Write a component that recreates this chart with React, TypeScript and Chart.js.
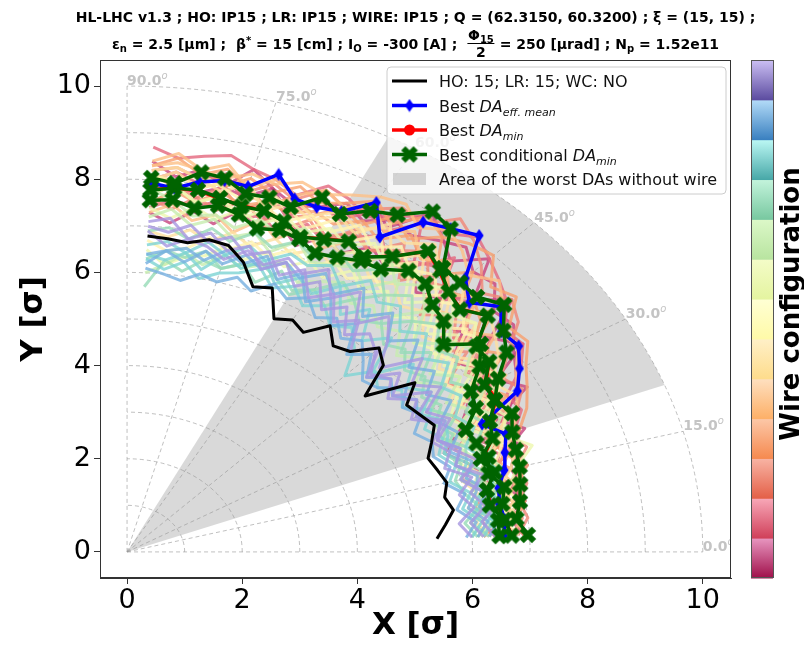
import React, { useEffect, useRef } from 'react';
import { Chart, registerables } from 'chart.js';

Chart.register(...registerables);

// ---------- data ----------
const ANGLES_DEG = [3, 6, 9, 12, 15, 18, 21, 24, 27, 30, 33, 36, 39, 42, 45, 48, 51, 54, 57, 60, 63, 66, 69, 72, 75, 78, 81, 84, 87];
const X_TICKS = [0, 2, 4, 6, 8, 10];
const Y_TICKS = [0, 2, 4, 6, 8, 10];
const X_MIN = -0.47;
const X_MAX = 10.49;
const Y_MIN = -0.56;
const Y_MAX = 10.56;
const GRID_RADII = [1, 2, 3, 4, 5, 6, 7, 8, 9, 10];
const GRID_ANGLES = [0, 15, 30, 45, 60, 75, 90];
const WEDGE_ANGLES = [21, 63];
const WEDGE_RADIUS = 10;

// HO: 15; LR: 15; WC: NO (reference without wire)
const NO_WIRE_DA = [5.39, 5.56, 5.74, 5.64, 5.75, 5.67, 5.6, 5.79, 5.99, 5.88, 5.79, 6.18, 5.32, 5.99, 6.19, 5.79, 5.69, 6.0, 5.62, 5.75, 5.62, 6.2, 6.1, 6.54, 6.81, 6.85, 6.72, 6.76, 6.79];
// Best DA eff. mean
const BEST_EFF_MEAN_DA = [6.55, 6.6, 6.55, 6.6, 6.78, 6.9, 7.05, 6.75, 7.61, 7.87, 8.11, 8.04, 8.36, 8.0, 8.31, 9.14, 8.93, 8.75, 8.06, 8.66, 8.2, 8.1, 8.12, 8.52, 8.12, 8.15, 8.04, 7.85, 7.93];
// Best DA min
const BEST_MIN_DA = [6.7, 6.6, 6.4, 6.4, 6.6, 6.5, 6.8, 6.9, 7.2, 7.2, 7.5, 7.5, 8.05, 7.8, 7.9, 8.1, 8.3, 7.85, 7.55, 7.7, 7.55, 7.4, 7.6, 7.7, 7.7, 7.75, 7.85, 7.85, 7.8];
// Best conditional DA min (several configurations)
const BEST_COND_1 = [6.97, 6.8, 6.91, 6.98, 7.06, 7.1, 7.17, 7.32, 7.17, 7.44, 7.86, 8.08, 8.43, 8.18, 8.18, 8.2, 8.93, 9.03, 8.63, 8.45, 8.14, 8.33, 7.93, 8.0, 7.96, 8.2, 8.25, 7.96, 8.04];
const BEST_COND_2 = [6.69, 6.59, 6.38, 6.39, 6.61, 6.46, 6.8, 6.9, 7.17, 7.17, 7.5, 7.5, 8.06, 7.78, 7.9, 8.13, 8.31, 7.84, 7.55, 7.7, 7.53, 7.4, 7.6, 7.7, 7.68, 7.77, 7.87, 7.85, 7.78];
const BEST_COND_3 = [6.48, 6.48, 6.6, 6.7, 6.5, 6.6, 6.5, 6.44, 6.8, 6.9, 7.3, 7.6, 7.07, 7.4, 7.5, 7.75, 7.77, 7.5, 7.45, 7.3, 7.2, 7.35, 7.4, 7.3, 7.5, 7.6, 7.47, 7.6, 7.56];

// wire configurations (DA radius per angle)
const W01 = [6.7, 6.9, 6.8, 7.0, 6.9, 7.1, 7.3, 7.2, 7.6, 7.8, 8.0, 8.3, 8.2, 8.6, 8.5, 8.8, 8.6, 8.4, 8.5, 8.2, 8.4, 8.1, 8.0, 8.2, 7.9, 8.0, 7.8, 7.9, 7.7];
const W02 = [6.3, 6.5, 6.2, 6.6, 6.4, 6.2, 5.9, 6.3, 6.6, 6.9, 7.2, 7.0, 7.5, 7.3, 7.7, 7.5, 7.9, 7.6, 7.8, 7.4, 7.6, 7.2, 7.5, 7.3, 7.6, 7.2, 7.4, 7.1, 7.3];
const W03 = [6.9, 6.7, 7.0, 6.8, 7.1, 7.0, 7.2, 7.5, 7.4, 7.9, 8.2, 8.1, 8.5, 8.7, 8.9, 9.1, 8.8, 8.9, 8.6, 8.3, 8.5, 8.6, 8.2, 8.4, 8.5, 8.7, 8.6, 8.5, 8.7];
const W04 = [6.4, 6.2, 6.5, 6.3, 6.6, 6.8, 6.5, 6.9, 7.1, 7.0, 7.4, 7.8, 7.6, 8.0, 7.8, 8.2, 8.0, 7.7, 8.1, 7.8, 7.5, 7.7, 7.3, 7.6, 7.4, 7.7, 7.5, 7.6, 7.4];
const W05 = [6.8, 7.0, 6.9, 7.1, 7.0, 7.3, 7.1, 7.4, 7.7, 7.5, 7.9, 8.4, 8.6, 8.3, 8.7, 9.0, 9.2, 8.7, 8.8, 8.5, 8.3, 8.5, 8.1, 8.3, 8.0, 8.2, 8.1, 8.3, 8.2];
const W06 = [6.6, 6.4, 6.7, 6.5, 6.3, 6.6, 6.9, 6.6, 7.0, 7.3, 7.1, 7.6, 7.3, 7.7, 8.0, 7.8, 8.3, 8.0, 7.7, 7.9, 7.6, 7.9, 7.7, 7.5, 7.8, 7.5, 7.7, 7.4, 7.6];
const W07 = [6.9, 6.8, 7.0, 6.9, 7.2, 7.0, 7.3, 7.6, 7.8, 8.0, 8.3, 8.2, 8.7, 8.5, 9.0, 8.9, 8.7, 8.9, 8.4, 8.7, 8.4, 8.2, 8.4, 8.1, 8.3, 8.0, 8.2, 8.0, 8.1];
const W08 = [6.5, 6.7, 6.4, 6.8, 6.6, 6.9, 6.7, 7.0, 7.3, 7.1, 7.6, 7.4, 7.9, 8.1, 7.9, 8.3, 8.1, 8.4, 8.0, 8.2, 7.9, 8.0, 7.8, 7.9, 7.7, 7.9, 7.6, 7.8, 7.5];
const W09 = [6.7, 6.9, 6.6, 6.9, 7.1, 6.9, 7.2, 7.4, 7.6, 7.8, 8.1, 8.0, 8.4, 8.7, 8.4, 8.7, 8.9, 8.6, 8.9, 8.8, 8.6, 8.4, 8.5, 8.3, 8.4, 8.2, 8.3, 8.4, 8.3];
const W10 = [6.2, 6.4, 6.6, 6.4, 6.7, 6.5, 6.8, 6.6, 6.9, 7.2, 7.0, 7.5, 7.2, 7.6, 7.4, 7.8, 7.6, 7.9, 7.4, 7.7, 7.3, 7.6, 7.2, 7.5, 7.1, 7.4, 7.2, 7.5, 7.3];
const W11 = [6.6, 6.5, 6.8, 6.6, 6.9, 7.1, 6.9, 7.2, 7.5, 7.3, 7.7, 7.9, 8.1, 7.8, 8.3, 8.1, 8.5, 8.2, 8.3, 8.0, 8.2, 7.9, 8.1, 7.8, 8.0, 8.1, 7.9, 8.2, 8.0];
const W12 = [6.3, 6.1, 6.4, 6.2, 6.0, 6.3, 6.5, 6.2, 6.7, 6.5, 6.9, 6.7, 7.1, 6.9, 7.3, 7.1, 7.4, 7.2, 7.5, 7.1, 7.3, 7.0, 7.2, 6.9, 7.1, 6.8, 7.0, 6.8, 6.9];
const W13 = [6.8, 6.6, 6.9, 6.7, 6.5, 6.8, 7.0, 6.8, 7.2, 7.5, 7.3, 7.7, 7.5, 7.9, 7.6, 8.0, 7.8, 8.1, 7.8, 8.1, 7.7, 7.9, 7.6, 7.8, 7.5, 7.8, 7.6, 7.9, 7.7];
const W14 = [6.1, 6.3, 6.0, 6.2, 6.4, 6.1, 6.3, 6.6, 6.4, 6.8, 6.6, 7.0, 6.8, 7.2, 7.0, 7.4, 7.1, 7.3, 7.0, 7.2, 6.9, 7.1, 6.8, 7.0, 6.7, 6.9, 6.6, 6.5, 6.7];
const W15 = [6.5, 6.7, 6.5, 6.8, 7.0, 7.4, 7.0, 7.2, 7.0, 7.4, 7.6, 7.4, 7.8, 7.6, 8.0, 7.7, 7.9, 7.6, 7.9, 7.6, 7.8, 7.5, 7.7, 7.4, 7.6, 7.3, 7.5, 7.2, 7.4];
const W16 = [6.2, 6.0, 6.3, 6.1, 6.3, 6.0, 6.2, 6.5, 6.3, 6.6, 6.9, 6.6, 6.9, 6.7, 7.1, 6.8, 7.2, 6.9, 7.2, 6.8, 7.0, 6.7, 6.9, 6.6, 6.8, 6.5, 6.4, 6.2, 6.5];
const W17 = [6.6, 6.4, 6.7, 6.5, 6.8, 6.6, 6.8, 7.1, 6.8, 7.2, 7.0, 7.4, 7.2, 7.6, 7.3, 7.7, 7.4, 7.8, 7.5, 7.7, 7.4, 7.6, 7.3, 7.5, 7.2, 7.4, 7.3, 7.6, 7.8];
const W18 = [6.0, 6.2, 6.1, 6.3, 6.1, 6.4, 6.2, 6.0, 6.3, 6.1, 6.5, 6.2, 6.6, 6.3, 6.7, 6.5, 6.8, 6.6, 6.9, 6.7, 6.5, 6.8, 6.6, 6.4, 6.6, 6.3, 6.5, 6.2, 6.0];
const W19 = [6.4, 6.6, 6.3, 6.6, 6.4, 6.7, 6.5, 6.8, 6.6, 7.0, 6.7, 7.1, 6.9, 7.3, 7.0, 7.4, 7.1, 7.5, 7.2, 7.4, 7.1, 7.3, 7.0, 7.2, 6.9, 7.1, 6.8, 7.0, 6.9];
const W20 = [6.1, 5.9, 6.2, 6.0, 5.9, 6.1, 5.9, 6.2, 6.0, 6.3, 6.1, 6.4, 6.2, 6.5, 6.3, 6.6, 6.4, 6.7, 6.3, 6.5, 6.2, 6.4, 6.6, 6.5, 6.3, 6.4, 6.1, 6.3, 5.7];
const W21 = [6.5, 6.3, 6.6, 6.4, 6.7, 6.5, 6.3, 6.6, 6.4, 6.7, 6.5, 6.9, 6.6, 7.0, 6.7, 7.1, 6.9, 7.2, 6.8, 7.1, 6.9, 7.0, 6.7, 6.9, 6.6, 6.8, 6.5, 6.7, 6.6];
const W22 = [6.0, 6.2, 5.9, 6.1, 5.8, 6.0, 5.8, 6.0, 5.8, 6.1, 5.7, 5.9, 5.6, 5.8, 5.35, 5.9, 6.2, 6.0, 6.3, 6.1, 6.4, 6.2, 6.5, 6.3, 6.2, 6.0, 6.3, 6.1, 6.3];
const W23 = [6.3, 6.5, 6.2, 6.4, 6.1, 6.3, 6.0, 6.3, 6.1, 6.5, 6.2, 6.6, 6.3, 6.8, 6.4, 6.9, 6.5, 7.0, 6.6, 6.9, 6.6, 6.8, 6.5, 6.7, 6.4, 6.6, 6.3, 6.5, 6.2];
const W24 = [5.9, 6.1, 5.8, 6.0, 5.7, 5.9, 5.7, 5.8, 5.6, 5.9, 5.7, 6.0, 5.6, 5.5, 5.8, 6.1, 5.9, 6.2, 6.0, 6.3, 6.1, 6.3, 6.0, 6.2, 6.0, 6.1, 5.9, 6.0, 6.1];
const W25 = [6.4, 6.2, 6.5, 6.3, 6.0, 6.4, 6.1, 5.9, 6.3, 6.0, 6.5, 6.1, 6.6, 5.9, 6.4, 6.8, 6.3, 6.9, 6.5, 7.0, 6.7, 6.9, 6.6, 6.8, 6.5, 6.7, 6.8, 6.6, 6.9];
const W26 = [6.0, 5.8, 6.1, 5.9, 6.2, 5.8, 6.0, 5.8, 6.2, 5.8, 6.3, 5.7, 6.1, 5.6, 6.2, 5.8, 6.4, 6.1, 6.6, 6.3, 6.8, 6.5, 6.9, 6.7, 7.0, 6.8, 7.1, 6.9, 7.0];
const W27 = [6.8, 6.5, 7.0, 6.7, 7.2, 6.9, 7.4, 7.0, 7.8, 7.4, 8.2, 7.8, 8.6, 8.1, 8.9, 8.4, 8.7, 9.0, 8.3, 8.6, 8.0, 8.4, 7.8, 8.2, 8.5, 8.0, 8.3, 8.1, 8.4];
const W28 = [6.4, 6.8, 6.3, 6.9, 6.5, 7.0, 6.6, 7.2, 6.8, 7.5, 7.0, 7.9, 7.3, 8.3, 7.6, 8.5, 7.9, 8.7, 8.2, 8.4, 8.0, 8.3, 7.7, 8.1, 7.8, 8.3, 8.0, 8.2, 8.0];
const W29 = [6.2, 6.6, 6.1, 6.5, 6.0, 6.4, 6.1, 6.7, 6.3, 7.0, 6.6, 7.3, 6.9, 7.6, 7.2, 8.0, 7.5, 8.2, 7.7, 8.0, 7.5, 7.8, 7.4, 7.9, 7.6, 8.0, 7.7, 7.9, 8.1];
const W30 = [6.7, 6.4, 6.8, 6.5, 6.9, 6.6, 7.1, 6.8, 7.4, 7.1, 7.8, 7.4, 8.2, 7.7, 8.5, 8.0, 8.7, 8.3, 8.6, 8.1, 8.3, 7.9, 8.2, 7.8, 8.1, 8.4, 8.2, 8.5, 8.3];
const W31 = [6.5, 6.8, 6.6, 6.9, 6.7, 7.0, 6.8, 7.3, 7.0, 7.6, 7.2, 7.9, 7.5, 8.2, 7.8, 8.4, 8.1, 8.5, 8.2, 8.6, 8.3, 8.5, 8.2, 8.4, 8.1, 8.5, 8.3, 8.6, 8.4];
const W32 = [6.4, 6.7, 6.5, 6.3, 6.8, 6.6, 7.0, 6.7, 7.2, 6.9, 7.5, 7.1, 7.8, 7.4, 8.0, 7.6, 8.2, 7.8, 8.4, 7.9, 8.1, 7.8, 8.0, 7.7, 8.2, 7.9, 8.1, 8.3, 8.2];
const W33 = [6.6, 6.3, 6.7, 6.4, 6.8, 6.5, 6.9, 6.6, 7.1, 6.8, 7.3, 7.0, 7.6, 7.2, 7.8, 7.4, 8.0, 7.6, 8.1, 7.7, 8.0, 7.6, 7.9, 8.1, 7.8, 8.0, 8.2, 8.0, 8.1];
const W34 = [6.3, 6.6, 6.2, 6.5, 6.7, 6.4, 6.8, 6.5, 6.9, 6.6, 7.2, 6.8, 7.4, 7.0, 7.6, 7.2, 7.8, 7.3, 7.7, 7.4, 7.6, 7.3, 7.5, 7.7, 7.4, 7.8, 7.6, 7.9, 7.7];
const W35 = [6.1, 6.4, 6.2, 6.5, 6.3, 6.6, 6.4, 6.2, 6.7, 6.4, 6.9, 6.5, 7.1, 6.7, 7.3, 6.8, 7.5, 7.0, 7.3, 7.1, 7.0, 7.3, 6.9, 7.2, 7.0, 7.3, 7.1, 7.4, 7.2];
const W36 = [6.3, 6.0, 6.4, 6.1, 6.5, 6.2, 6.3, 6.0, 6.4, 6.1, 6.6, 6.3, 6.8, 6.4, 7.0, 6.6, 7.1, 6.7, 6.9, 6.5, 6.3, 6.6, 6.2, 6.5, 6.3, 6.6, 6.4, 6.5, 6.3];
const W37 = [6.2, 6.4, 6.1, 6.3, 6.0, 6.2, 5.9, 6.1, 6.2, 5.9, 6.3, 6.0, 6.4, 5.7, 6.5, 6.1, 6.7, 6.3, 6.8, 6.4, 6.6, 6.3, 6.7, 6.4, 6.6, 6.2, 6.5, 6.3, 6.4];
const W38 = [6.1, 6.3, 6.0, 6.2, 6.3, 6.0, 6.2, 5.9, 6.1, 5.8, 6.0, 5.7, 5.9, 5.6, 6.0, 5.7, 6.3, 6.0, 6.5, 6.2, 6.7, 6.4, 6.8, 6.5, 6.7, 6.4, 6.6, 6.5, 6.4];
const W39 = [6.2, 6.0, 6.3, 6.1, 6.4, 6.0, 6.2, 5.9, 6.1, 5.7, 6.0, 5.6, 5.9, 5.7, 6.1, 6.3, 6.0, 6.5, 6.2, 6.7, 6.4, 6.8, 6.5, 6.9, 6.7, 7.0, 6.8, 7.2, 7.1];
const WIRE_SERIES = [W01, W02, W27, W03, W04, W28, W05, W06, W29, W07, W08, W30, W09, W10, W31, W11, W12, W32, W13, W14, W33, W15, W16, W34, W17, W18, W35, W19, W20, W36, W21, W22, W37, W23, W24, W38, W25, W26, W39];
const WIRE_LEVEL = [0, 0, 0, 1, 1, 1, 2, 2, 2, 3, 3, 3, 4, 4, 4, 5, 5, 5, 6, 6, 6, 7, 7, 7, 8, 8, 8, 9, 9, 9, 10, 10, 10, 11, 11, 11, 12, 12, 12];

// colour levels, bottom (0) to top (12)
const LINE_COLORS = ['#c8467e', '#e46a80', '#f08878', '#f8a070', '#fdc088', '#fee0a0', '#fff4b0', '#eef8b0', '#c8ecb0', '#98dcb8', '#80d4d4', '#78b0e0', '#a898e0'];
const CBAR_LIGHT = ['#e896c0', '#f8a8b8', '#f8b4a4', '#fcc8a8', '#fee0c0', '#fff0c8', '#ffffd4', '#f4fcc8', '#dcf8c8', '#c4f4dc', '#bcf8f4', '#b4dcf8', '#ccc0f4'];
const CBAR_DARK = ['#a0104a', '#d0405a', '#e46048', '#f68a50', '#fdb068', '#fedc8c', '#fffaa8', '#e4f4a0', '#b8e4a0', '#78c8a0', '#48a8a8', '#3a80c0', '#5c4ca0'];

const DEG = Math.PI / 180;
const FONT = '"DejaVu Sans", sans-serif';

function polarPoints(radii: number[]) {
  return ANGLES_DEG.map((a, i) => ({ x: radii[i] * Math.cos(a * DEG), y: radii[i] * Math.sin(a * DEG) }));
}

function makeXMarker(color: string) {
  const size = 18;
  const c = document.createElement('canvas');
  c.width = size;
  c.height = size;
  const g = c.getContext('2d')!;
  g.translate(size / 2, size / 2);
  g.rotate(Math.PI / 4);
  const w = 3;
  const L = 8.8;
  g.beginPath();
  g.moveTo(w, L); g.lineTo(w, w); g.lineTo(L, w); g.lineTo(L, -w); g.lineTo(w, -w); g.lineTo(w, -L);
  g.lineTo(-w, -L); g.lineTo(-w, -w); g.lineTo(-L, -w); g.lineTo(-L, w); g.lineTo(-w, w); g.lineTo(-w, L);
  g.closePath();
  g.fillStyle = color;
  g.fill();
  return c;
}

function makeDiamond(color: string) {
  const c = document.createElement('canvas');
  c.width = 10;
  c.height = 14;
  const g = c.getContext('2d')!;
  g.beginPath();
  g.moveTo(5, 0.5); g.lineTo(9.5, 7); g.lineTo(5, 13.5); g.lineTo(0.5, 7);
  g.closePath();
  g.fillStyle = color;
  g.fill();
  return c;
}

type Run = { text: string; font: string; dy?: number };
function drawRuns(ctx: CanvasRenderingContext2D, runs: Run[], x: number, y: number) {
  let cx = x;
  for (const r of runs) {
    ctx.font = r.font;
    ctx.fillText(r.text, cx, y + (r.dy || 0));
    cx += ctx.measureText(r.text).width;
  }
}

export default function App() {
  const ref = useRef<HTMLCanvasElement | null>(null);

  useEffect(() => {
    const canvas = ref.current;
    if (!canvas) return;
    const greenX = makeXMarker('#006400');
    const blueD = makeDiamond('#0000ff');

    const polarPlugin = {
      id: 'polarGrid',
      beforeDatasetsDraw(chart: any) {
        const { ctx, chartArea } = chart;
        const xs = chart.scales.x;
        const ys = chart.scales.y;
        const cx = xs.getPixelForValue(0);
        const cy = ys.getPixelForValue(0);
        const rx = (r: number) => xs.getPixelForValue(r) - cx;
        const ry = (r: number) => cy - ys.getPixelForValue(r);
        ctx.save();
        ctx.beginPath();
        ctx.rect(chartArea.left, chartArea.top, chartArea.right - chartArea.left, chartArea.bottom - chartArea.top);
        ctx.clip();
        // wedge
        ctx.beginPath();
        ctx.moveTo(cx, cy);
        ctx.ellipse(cx, cy, rx(WEDGE_RADIUS), ry(WEDGE_RADIUS), 0, -WEDGE_ANGLES[0] * DEG, -WEDGE_ANGLES[1] * DEG, true);
        ctx.closePath();
        ctx.fillStyle = 'rgba(128,128,128,0.3)';
        ctx.fill();
        // grid
        ctx.setLineDash([4, 3]);
        ctx.lineWidth = 1;
        ctx.strokeStyle = 'rgba(150,150,150,0.6)';
        for (const r of GRID_RADII) {
          ctx.beginPath();
          ctx.ellipse(cx, cy, rx(r), ry(r), 0, 0, -Math.PI / 2, true);
          ctx.stroke();
        }
        const rMax = GRID_RADII[GRID_RADII.length - 1];
        for (const a of GRID_ANGLES) {
          ctx.beginPath();
          ctx.moveTo(cx, cy);
          ctx.lineTo(cx + rx(rMax) * Math.cos(a * DEG), cy - ry(rMax) * Math.sin(a * DEG));
          ctx.stroke();
        }
        ctx.setLineDash([]);
        // angle labels
        ctx.fillStyle = '#c4c4c4';
        ctx.textAlign = 'left';
        ctx.textBaseline = 'alphabetic';
        for (const a of GRID_ANGLES) {
          const px = cx + rx(rMax) * Math.cos(a * DEG);
          const py = cy - ry(rMax) * Math.sin(a * DEG);
          drawRuns(ctx, [
            { text: a.toFixed(1), font: `bold 14px ${FONT}` },
            { text: 'o', font: `italic 10px ${FONT}`, dy: -6 },
          ], px, py - 1);
        }
        ctx.restore();
      },
      afterDatasetsDraw(chart: any) {
        const { ctx } = chart;
        ctx.save();
        // legend box
        const bx = 387, by = 67, bw = 339, bh = 127, rad = 4;
        ctx.beginPath();
        ctx.moveTo(bx + rad, by);
        ctx.arcTo(bx + bw, by, bx + bw, by + bh, rad);
        ctx.arcTo(bx + bw, by + bh, bx, by + bh, rad);
        ctx.arcTo(bx, by + bh, bx, by, rad);
        ctx.arcTo(bx, by, bx + bw, by, rad);
        ctx.closePath();
        ctx.fillStyle = 'rgba(255,255,255,0.8)';
        ctx.fill();
        ctx.strokeStyle = '#cccccc';
        ctx.lineWidth = 1;
        ctx.stroke();

        const rows = [81, 105.5, 130, 154.5, 179];
        const hx0 = 392, hx1 = 427, hxc = (hx0 + hx1) / 2;
        const line = (y: number, color: string, w: number) => {
          ctx.beginPath();
          ctx.moveTo(hx0, y);
          ctx.lineTo(hx1, y);
          ctx.strokeStyle = color;
          ctx.lineWidth = w;
          ctx.stroke();
        };
        line(rows[0], '#000000', 3);
        line(rows[1], '#0000ff', 3.5);
        ctx.drawImage(blueD, hxc - 5, rows[1] - 7);
        line(rows[2], '#ff0000', 3.5);
        ctx.beginPath();
        ctx.arc(hxc, rows[2], 5.5, 0, Math.PI * 2);
        ctx.fillStyle = '#ff0000';
        ctx.fill();
        line(rows[3], '#006400', 3.5);
        ctx.drawImage(greenX, hxc - 9, rows[3] - 9);
        ctx.fillStyle = 'rgba(128,128,128,0.3)';
        ctx.fillRect(393, rows[4] - 6, 33, 12);

        ctx.fillStyle = '#111';
        ctx.textAlign = 'left';
        ctx.textBaseline = 'alphabetic';
        const f = `16px ${FONT}`;
        const fi = `italic 16px ${FONT}`;
        const fs = `italic 11px ${FONT}`;
        const tx = 439;
        const bl = 6;
        drawRuns(ctx, [{ text: 'HO: 15; LR: 15; WC: NO', font: f }], tx, rows[0] + bl);
        drawRuns(ctx, [{ text: 'Best ', font: f }, { text: 'DA', font: fi }, { text: 'eff. mean', font: fs, dy: 4 }], tx, rows[1] + bl);
        drawRuns(ctx, [{ text: 'Best ', font: f }, { text: 'DA', font: fi }, { text: 'min', font: fs, dy: 4 }], tx, rows[2] + bl);
        drawRuns(ctx, [{ text: 'Best conditional ', font: f }, { text: 'DA', font: fi }, { text: 'min', font: fs, dy: 4 }], tx, rows[3] + bl);
        drawRuns(ctx, [{ text: 'Area of the worst DAs without wire', font: f }], tx, rows[4] + bl);
        ctx.restore();
      },
      afterDraw(chart: any) {
        const { ctx, chartArea } = chart;
        ctx.save();
        // frame
        ctx.strokeStyle = '#333';
        ctx.lineWidth = 1;
        ctx.strokeRect(Math.round(chartArea.left) + 0.5, Math.round(chartArea.top) + 0.5,
          Math.round(chartArea.right - chartArea.left) - 1, Math.round(chartArea.bottom - chartArea.top) - 1);
        // colorbar
        const top = chartArea.top;
        const bottom = chartArea.bottom;
        const x0 = 751;
        const w = 22;
        const n = CBAR_LIGHT.length;
        const h = (bottom - top) / n;
        for (let k = 0; k < n; k++) {
          const y1 = bottom - (k + 1) * h;
          const y2 = bottom - k * h;
          const g = ctx.createLinearGradient(0, y1, 0, y2);
          g.addColorStop(0, CBAR_LIGHT[k]);
          g.addColorStop(1, CBAR_DARK[k]);
          ctx.fillStyle = g;
          ctx.fillRect(x0, y1, w, y2 - y1 + 0.5);
        }
        ctx.strokeStyle = '#555';
        ctx.strokeRect(x0 + 0.5, top + 0.5, w, bottom - top - 1);
        ctx.translate(799, 304);
        ctx.rotate(-Math.PI / 2);
        ctx.fillStyle = '#000';
        ctx.font = `bold 26px ${FONT}`;
        ctx.textAlign = 'center';
        ctx.textBaseline = 'alphabetic';
        ctx.fillText('Wire configuration', 0, 0);
        ctx.restore();
      },
    };

    const datasets: any[] = [];
    datasets.push({ label: 'Best conditional DA_min 1', data: polarPoints(BEST_COND_1), showLine: true, borderColor: '#006400', borderWidth: 3.5, pointStyle: greenX, pointRadius: 8, order: 0 });
    datasets.push({ label: 'Best conditional DA_min 2', data: polarPoints(BEST_COND_2), showLine: true, borderColor: '#006400', borderWidth: 3.5, pointStyle: greenX, pointRadius: 8, order: 1 });
    datasets.push({ label: 'Best conditional DA_min 3', data: polarPoints(BEST_COND_3), showLine: true, borderColor: '#006400', borderWidth: 3.5, pointStyle: greenX, pointRadius: 8, order: 2 });
    datasets.push({ label: 'Best DA_min', data: polarPoints(BEST_MIN_DA), showLine: true, borderColor: '#ff0000', backgroundColor: '#ff0000', borderWidth: 3, pointStyle: 'circle', pointRadius: 3.5, pointBorderWidth: 0, order: 3 });
    datasets.push({ label: 'Best DA_eff.mean', data: polarPoints(BEST_EFF_MEAN_DA), showLine: true, borderColor: '#0000ff', borderWidth: 3.5, pointStyle: blueD, pointRadius: 6, order: 4 });
    datasets.push({ label: 'HO: 15; LR: 15; WC: NO', data: polarPoints(NO_WIRE_DA), showLine: true, borderColor: '#000000', borderWidth: 3, pointRadius: 0, order: 5 });
    WIRE_SERIES.forEach((r, i) => {
      datasets.push({
        label: `wire ${i + 1}`,
        data: polarPoints(r),
        showLine: true,
        borderColor: LINE_COLORS[WIRE_LEVEL[i]] + 'd0',
        borderWidth: 3,
        pointRadius: 0,
        order: 1000 - i,
      });
    });

    const chart = new Chart(canvas, {
      type: 'scatter',
      data: { datasets },
      plugins: [polarPlugin],
      options: {
        animation: false,
        responsive: false,
        events: [],
        layout: { padding: { left: 0, top: 60, right: 73, bottom: 0 } },
        elements: { line: { borderJoinStyle: 'round', tension: 0 } },
        plugins: { legend: { display: false }, tooltip: { enabled: false }, title: { display: false } },
        scales: {
          x: {
            type: 'linear',
            min: X_MIN,
            max: X_MAX,
            afterBuildTicks: (s: any) => { s.ticks = X_TICKS.map((v) => ({ value: v })); },
            afterFit: (s: any) => { s.height = 67; },
            ticks: { color: '#000', font: { family: FONT, size: 27 }, padding: 1, maxRotation: 0, autoSkip: false, callback: (v: any) => String(v) },
            grid: { drawOnChartArea: false, drawTicks: true, tickLength: 6, color: '#333' },
            border: { display: true, color: '#333' },
            title: { display: true, text: 'X [σ]', color: '#000', font: { family: FONT, size: 31, weight: 'bold', lineHeight: 1.2 }, padding: { top: 0, bottom: 0 } },
          },
          y: {
            type: 'linear',
            min: Y_MIN,
            max: Y_MAX,
            afterBuildTicks: (s: any) => { s.ticks = Y_TICKS.map((v) => ({ value: v })); },
            afterFit: (s: any) => { s.width = 100; },
            ticks: { color: '#000', font: { family: FONT, size: 27 }, padding: 3, autoSkip: false, callback: (v: any) => String(v) },
            grid: { drawOnChartArea: false, drawTicks: true, tickLength: 6, color: '#333' },
            border: { display: true, color: '#333' },
            title: { display: true, text: 'Y [σ]', color: '#000', font: { family: FONT, size: 31, weight: 'bold', lineHeight: 1.2 }, padding: { top: 15, bottom: 0 } },
          },
        },
      } as any,
    });
    return () => chart.destroy();
  }, []);

  const sub: React.CSSProperties = { fontSize: 10, verticalAlign: 'baseline', position: 'relative', top: 3, lineHeight: 0 };
  const sup: React.CSSProperties = { fontSize: 10, verticalAlign: 'baseline', position: 'relative', top: -5, lineHeight: 0 };
  const titleStyle: React.CSSProperties = {
    position: 'absolute', left: 415.5, transform: 'translateX(-50%)', whiteSpace: 'nowrap',
    fontFamily: FONT, fontWeight: 'bold', fontSize: 14, color: '#000',
  };

  return (
    <div style={{ position: 'absolute', left: 0, top: 0, width: 804, height: 645, background: '#fff' }}>
      <canvas ref={ref} width={804} height={645} style={{ display: 'block', width: 804, height: 645 }} />
      <div style={{ ...titleStyle, top: 7, lineHeight: '20px' }}>
        HL-LHC v1.3 ; HO: IP15 ; LR: IP15 ; WIRE: IP15 ; Q = (62.3150, 60.3200) ; ξ = (15, 15) ;
      </div>
      <div style={{ ...titleStyle, top: 28, display: 'flex', alignItems: 'center', lineHeight: '16px' }}>
        <span>
          ε<sub style={sub}>n</sub> = 2.5 [μm] ;{'\u00a0\u00a0'}β<sup style={sup}>*</sup> = 15 [cm] ; I<sub style={sub}>O</sub> = -300 [A] ;{'\u00a0\u00a0'}
        </span>
        <span style={{ display: 'inline-flex', flexDirection: 'column', alignItems: 'center', lineHeight: '14px' }}>
          <span style={{ borderBottom: '1.3px solid #000', padding: '0 1px 1px' }}>Φ<sub style={sub}>15</sub></span>
          <span style={{ paddingTop: 1 }}>2</span>
        </span>
        <span>{'\u00a0'}= 250 [μrad] ; N<sub style={sub}>p</sub> = 1.52e11</span>
      </div>
    </div>
  );
}
